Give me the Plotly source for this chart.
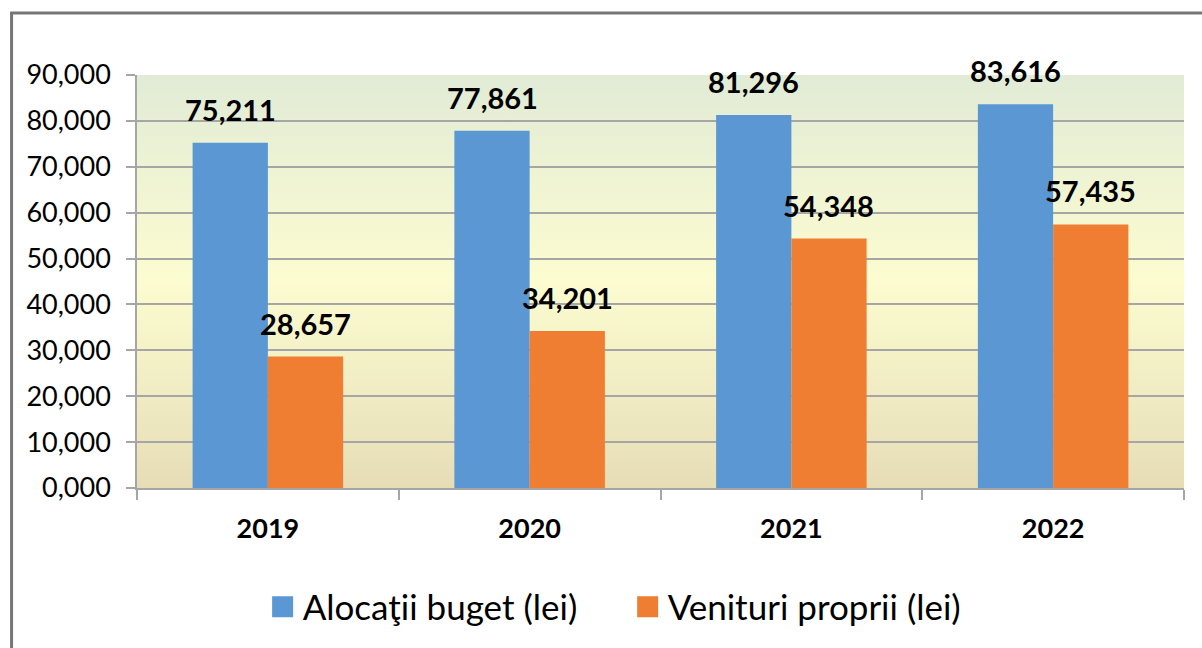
import base64
import plotly.graph_objects as go

years = ['2019', '2020', '2021', '2022']
alocatii = [75211, 77861, 81296, 83616]
venituri = [28657, 34201, 54348, 57435]
series_names = ['Alocaţii buget (lei)', 'Venituri proprii (lei)']
y_ticks = [0, 10000, 20000, 30000, 40000, 50000, 60000, 70000, 80000, 90000]
y_ticktext = ['0,000', '10,000', '20,000', '30,000', '40,000', '50,000',
              '60,000', '70,000', '80,000', '90,000']

FONT = 'Lato'
BLUE = '#5A97D3'
ORANGE = '#EF7E33'
BAR_SHIFT = 37.6  # half bar width in px (grouped bars offset)

# plot area background gradient (green -> pale yellow -> tan)
svg = ("<svg xmlns='http://www.w3.org/2000/svg' width='100' height='100' preserveAspectRatio='none'>"
       "<defs><linearGradient id='g' x1='0' y1='0' x2='0' y2='1'>"
       "<stop offset='0' stop-color='#E1EBD6'/>"
       "<stop offset='0.5' stop-color='#FCFCD0'/>"
       "<stop offset='1' stop-color='#E6DDB7'/>"
       "</linearGradient></defs>"
       "<rect width='100' height='100' fill='url(#g)'/></svg>")
bg_src = 'data:image/svg+xml;base64,' + base64.b64encode(svg.encode()).decode()

fig = go.Figure()
fig.add_trace(go.Bar(x=years, y=alocatii, name=series_names[0], showlegend=False,
                     marker=dict(color=BLUE, line=dict(width=0))))
fig.add_trace(go.Bar(x=years, y=venituri, name=series_names[1], showlegend=False,
                     marker=dict(color=ORANGE, line=dict(width=0))))
# legend-only entries, so the squares can be bigger than plotly's bar swatch
for name, col in zip(series_names, [BLUE, ORANGE]):
    fig.add_trace(go.Scatter(x=[None], y=[None], mode='markers', name=name,
                             marker=dict(symbol='square', size=16, color=col,
                                         line=dict(color=col, width=5))))

# value labels, lifted a bit above the bars like the original
# (x given as category index so '2019' is not read as a number)
labels = []
for series, shift in [(alocatii, -BAR_SHIFT), (venituri, BAR_SHIFT)]:
    for i, v in enumerate(series):
        labels.append(dict(x=i, y=v, text=f'{v:,}', showarrow=False,
                           xshift=shift, yshift=14, yanchor='bottom',
                           font=dict(family=FONT, size=29, color='black', weight='bold')))

fig.update_layout(
    width=1202, height=648,
    margin=dict(l=137, r=18, t=75, b=160),
    paper_bgcolor='white', plot_bgcolor='rgba(0,0,0,0)',
    barmode='group', bargap=0.425, bargroupgap=0,
    font=dict(family=FONT, color='black'),
    annotations=labels,
    images=[dict(source=bg_src, xref='paper', yref='paper', x=0, y=1,
                 sizex=1, sizey=1, sizing='stretch', layer='below')],
    legend=dict(orientation='h', x=0.12, xanchor='left', y=-0.288, yanchor='middle',
                font=dict(family=FONT, size=35), itemwidth=30, entrywidth=320,
                itemsizing='trace'),
    shapes=[
        dict(type='line', xref='paper', yref='paper', x0=-0.1198, x1=-0.1198, y0=1.15, y1=-0.5,
             line=dict(color='#767676', width=3)),
        dict(type='line', xref='paper', yref='paper', x0=-0.1212, x1=1.2, y0=1.15, y1=1.15,
             line=dict(color='#767676', width=3)),
    ],
)
fig.update_yaxes(range=[0, 90000], tickvals=y_ticks, ticktext=y_ticktext,
                 showgrid=True, gridcolor='#A6A6A6', gridwidth=1.5, zeroline=False,
                 showline=True, linecolor='#A6A6A6', linewidth=1.5,
                 ticks='outside', ticklen=9, tickcolor='#A6A6A6', tickwidth=1.5,
                 ticklabelstandoff=10, tickfont=dict(family=FONT, size=27, color='black'))
fig.update_xaxes(type='category', showline=True, linecolor='#A6A6A6', linewidth=1.5,
                 ticks='outside', tickson='boundaries', ticklen=10, tickcolor='#A6A6A6', tickwidth=1.5,
                 ticklabelstandoff=16, tickfont=dict(family=FONT, size=27, color='black', weight='bold'))

fig.write_html('out.html', config=dict(displayModeBar=False),
               post_script="document.body.style.margin='0';")
